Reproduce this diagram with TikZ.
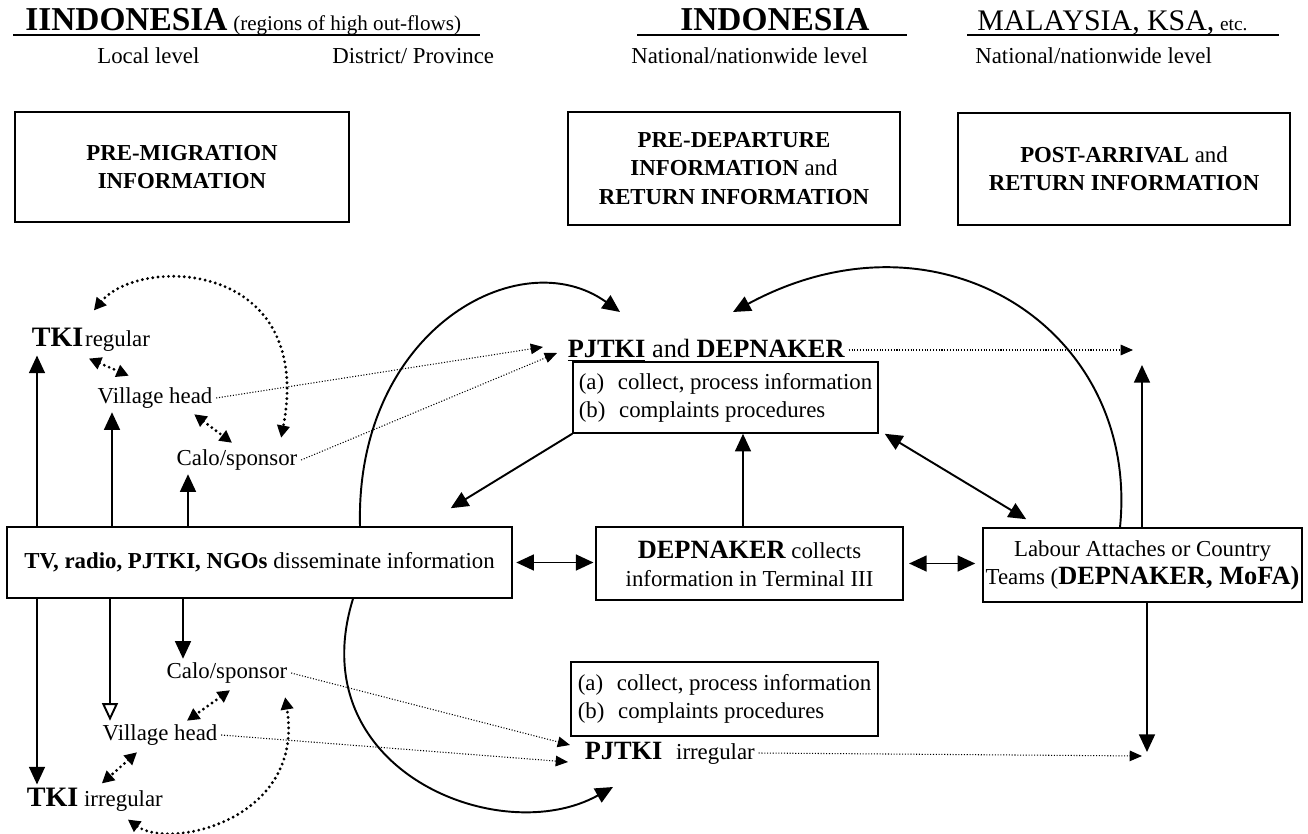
\documentclass[tikz,border=0pt]{standalone}
\usepackage{fontspec}
\setmainfont{Liberation Serif}
\usetikzlibrary{arrows.meta,calc,positioning}
\newcommand{\bodyfont}{\fontsize{13}{16}\selectfont}
\newcommand{\boldbig}[1]{{\fontsize{15}{17}\selectfont\bfseries #1}}

\begin{document}
\begin{tikzpicture}[x=0.02cm,y=-0.02cm,
  every node/.style={font=\bodyfont,inner sep=2pt},
  box/.style={draw,line width=0.9pt,inner sep=0pt,align=center},
  arr/.style={-{Triangle[length=10pt,width=9pt]},line width=1.1pt},
  openarr/.style={-{Triangle[open,length=10pt,width=9pt]},line width=1.1pt},
  darr/.style={{Triangle[length=10pt,width=9pt]}-{Triangle[length=10pt,width=9pt]},line width=1.1pt},
  dots/.style={{Triangle[length=7pt,width=7pt]}-{Triangle[length=7pt,width=7pt]},line width=1.8pt,line cap=round,dash pattern=on 0pt off 3pt},
  faint/.style={-{Triangle[length=7pt,width=6pt]},line width=0.6pt,densely dotted}]
  \useasboundingbox (0,0) rectangle (1308,834);

  % headers
  \node[anchor=base west,inner sep=0pt] (hdrL) at (25,31) {{\fontsize{19}{22}\selectfont\bfseries IINDONESIA} {\fontsize{12}{14}\selectfont(regions of high out-flows)}};
  \node[anchor=base,inner sep=0pt] (hdrM) at (775,31) {\fontsize{19}{22}\selectfont\bfseries INDONESIA};
  \node[anchor=base west,inner sep=0pt] (hdrR) at (977,31) {{\fontsize{17}{20}\selectfont MALAYSIA, KSA,} {\fontsize{11}{14}\selectfont etc.}};
  \draw[line width=1pt] (13,35) -- (480,35);
  \draw[line width=1pt] (637,35) -- (907,35);
  \draw[line width=1pt] (967,35) -- (1279,35);
  \node[anchor=base west,inner sep=0pt] (lvlLocal) at (97,64) {Local level};
  \node[anchor=base west,inner sep=0pt] (lvlDist) at (332,64) {District/ Province};
  \node[anchor=base west,inner sep=0pt] (lvlNat) at (631,64) {National/nationwide level};
  \node[anchor=base west,inner sep=0pt] (lvlAbr) at (975,64) {National/nationwide level};

  % information phases
  \node[box,font=\bodyfont\bfseries,minimum width=6.68cm,minimum height=2.2cm] (preMig) at (182,167) {PRE-MIGRATION\\INFORMATION};
  \node[box,font=\bodyfont\bfseries,minimum width=6.64cm,minimum height=2.26cm] (preDep) at (734,168.5) {PRE-DEPARTURE\\INFORMATION {\mdseries and}\\RETURN INFORMATION};
  \node[box,font=\bodyfont\bfseries,minimum width=6.64cm,minimum height=2.24cm] (postArr) at (1124,169) {POST-ARRIVAL {\mdseries and}\\RETURN INFORMATION};

  % local actors, regular
  \node[anchor=west] (tkiR) at (28,340) {\textbf{\fontsize{16}{18}\selectfont TKI}\hspace{1pt}regular};
  \node (vhU) at (155,398) {Village head};
  \node (caloU) at (237,460) {Calo/sponsor};
  % local actors, irregular
  \node (caloL) at (227,673) {Calo/sponsor};
  \node (vhL) at (160,735) {Village head};
  \node[anchor=west] (tkiI) at (23,800) {\textbf{\fontsize{16}{18}\selectfont TKI} irregular};

  % main row
  \node[box,minimum width=10.1cm,minimum height=1.42cm] (tv) at (259.5,562.5) {\textbf{TV, radio, PJTKI, NGOs} disseminate information};
  \node[box,minimum width=6.14cm,minimum height=1.46cm] (depBox) at (749.5,563.5) {\boldbig{DEPNAKER} collects\\information in Terminal III};
  \node[box,minimum width=6.38cm,minimum height=1.48cm] (labBox) at (1142.5,565) {Labour Attaches or Country\\Teams (\boldbig{DEPNAKER, MoFA)}};

  % recruiters
  \node[anchor=west,font=\fontsize{15}{17}\selectfont] (pjU) at (564,350) {\textbf{\underline{PJTKI}} and \textbf{DEPNAKER}};
  \node[box,align=left,minimum width=6.1cm,minimum height=1.42cm] (boxU) at (725.5,397.5) {(a)\hspace{0.6em}collect, process information\\(b)\hspace{0.6em}complaints procedures};
  \node[box,align=left,minimum width=6.14cm,minimum height=1.48cm] (boxL) at (724.5,699) {(a)\hspace{0.6em}collect, process information\\(b)\hspace{0.6em}complaints procedures};
  \node[anchor=west] (pjL) at (581,753) {\boldbig{PJTKI}\hspace{0.6em}irregular};

  % free ends
  \coordinate (colA) at (37,0);
  \coordinate (colB) at (112,0);
  \coordinate (colBl) at (110,0);
  \coordinate (colC) at (188,0);
  \coordinate (colCl) at (183,0);
  \coordinate (colM) at (743,0);
  \coordinate (abroadU) at (1142,350);
  \coordinate (abroadL) at (1147,756);
  \coordinate (arcTopL) at (620,312);
  \coordinate (arcTopR) at (733,312);
  \coordinate (arcBot) at (613,787);

  % vertical flows from the media box
  \draw[arr] (tv.north -| colA) -- (tkiR.south -| colA);
  \draw[arr] (tv.north -| colB) -- (vhU.south -| colB);
  \draw[arr] (tv.north -| colC) -- (caloU.south -| colC);
  \draw[arr] (tv.south -| colA) -- (tkiI.north -| colA);
  \draw[openarr] (tv.south -| colBl) -- (vhL.north -| colBl);
  \draw[arr] (tv.south -| colCl) -- (caloL.north -| colCl);

  % ties between local actors
  \draw[dots] ($(tkiR.south)+(-2,3)$) -- ($(vhU.north west)+(35,-8)$);
  \draw[dots] ($(vhU.south east)+(-22,2)$) -- ($(caloU.north)+(-5,-3)$);
  \draw[dots] ($(tkiR.north)+(3,-14)$) .. controls (140,255) and (315,260) .. ($(caloU.north east)+(-20,-8)$);
  \draw[dots] ($(caloL.south)+(3,3)$) -- ($(vhL.north)+(27,0)$);
  \draw[dots] ($(vhL.south)+(-23,3)$) -- ($(tkiI.north)+(7,-1)$);
  \draw[dots] ($(tkiI.south)+(33,4)$) .. controls (170,850) and (305,820) .. ($(caloL.south east)+(-6,10)$);

  % information to recruiters
  \draw[faint] (vhU.east) -- ($(pjU.west)+(-21,-3)$);
  \draw[faint] (caloU.east) -- ($(pjU.west)+(-7,3)$);
  \draw[faint] (caloL.east) -- ($(pjL.west)+(-11,-8)$);
  \draw[faint] (vhL.east) -- ($(pjL.west)+(-13,9)$);
  \draw[faint] (pjU.east) -- ($(abroadU)+(-9,0)$);
  \draw[faint] (pjL.east) -- ($(abroadL)+(-5,0)$);

  % national level
  \draw[arr] (boxU.south west) -- ($(tv.north east)+(-62,-18)$);
  \draw[arr] (depBox.north -| colM) -- (boxU.south -| colM);
  \draw[darr,shorten <=2pt,shorten >=1pt] (tv.east) -- (tv.east -| depBox.west);
  \draw[darr,shorten <=3pt,shorten >=4pt] (depBox.east) -- (depBox.east -| labBox.west);
  \draw[darr] ($(boxU.south east)+(6,0)$) -- ($(labBox.north west)+(44,-8)$);
  \draw[arr] (labBox.north -| abroadU) -- ($(abroadU)+(0,15)$);
  \draw[arr] (labBox.south -| abroadL) -- ($(abroadL)+(0,-4)$);

  % big loops
  \draw[arr] ($(tv.north)+(100.5,0)$) .. controls (355,330) and (520,240) .. (arcTopL);
  \draw[arr] ($(labBox.north)+(-22.5,0)$) .. controls (1140,330) and (940,200) .. (arcTopR);
  \draw[arr] ($(tv.south)+(93.5,0)$) .. controls (300,770) and (500,850) .. (arcBot);
\end{tikzpicture}
\end{document}
